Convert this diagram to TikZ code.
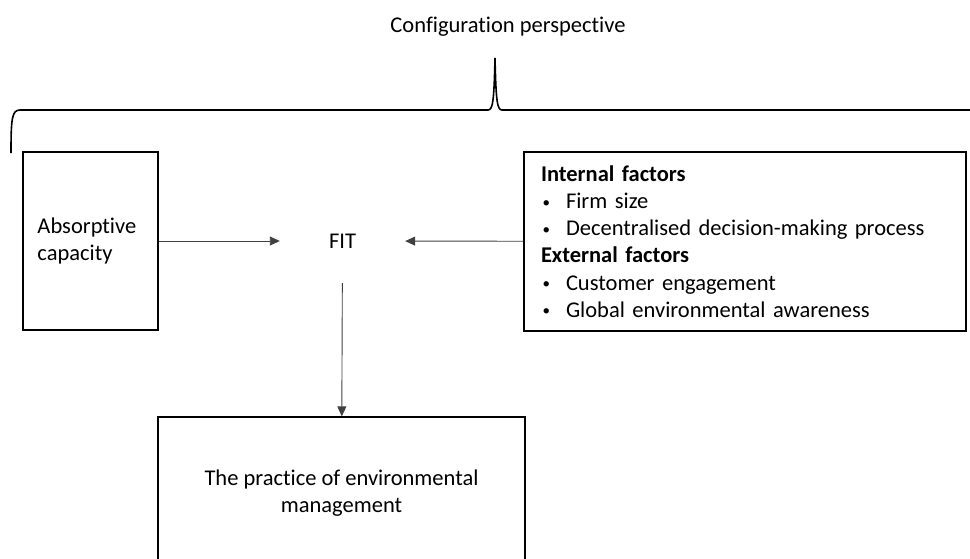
\documentclass[tikz,border=0pt]{standalone}
\usepackage{fontspec}
\setmainfont{Carlito}[Ligatures=NoCommon]
\usepackage{tikz}
\usetikzlibrary{arrows.meta,calc}

\newcommand{\factoritem}[1]{\leavevmode\hbox to 25pt{\hspace{1.5pt}\raisebox{1.5pt}{\fontsize{15}{15}\selectfont\textbullet}\hfil}#1}

\begin{document}
\begin{tikzpicture}[x=1pt,y=-1pt,
  font=\fontsize{22.5}{27.2}\selectfont,
  boxed/.style={draw,line width=1.3pt,inner sep=0pt},
  link/.style={-{Triangle[length=10pt,width=9pt]},line width=0.9pt,draw=black!75}]
\useasboundingbox (0,0) rectangle (970,558);
\node (title) at (508,27) {Configuration perspective};
\draw[line width=1.6pt] (11,153) .. controls (11,118) and (12,110) .. (20,110) -- (488,110)
  .. controls (493,110) and (494,100) .. (495,58)
  .. controls (496,100) and (497,110) .. (502,110) -- (975,110);
\node[boxed,minimum width=135pt,minimum height=178pt,text width=106pt,align=left] (absorb) at (90.5,241) {Absorptive\\capacity};
\node[minimum width=125pt,minimum height=84pt,inner sep=0pt] (fit) at (342.5,241) {FIT};
\node[boxed,minimum width=442pt,minimum height=179pt,text width=408pt,align=left] (factors) at (745,241.5) {%
\textbf{Internal factors}\\
\factoritem{Firm size}\\
\factoritem{Decentralised decision-making process}\\
\textbf{External factors}\\
\factoritem{Customer engagement}\\
\factoritem{Global environmental awareness}};
\node[boxed,minimum width=367pt,minimum height=152pt,align=center] (practice) at (341.5,493) {The practice of environmental\\management};
\draw[link] (absorb) -- (fit);
\draw[link] (factors) -- (fit);
\draw[link] (fit) -- (practice);
\end{tikzpicture}
\end{document}
